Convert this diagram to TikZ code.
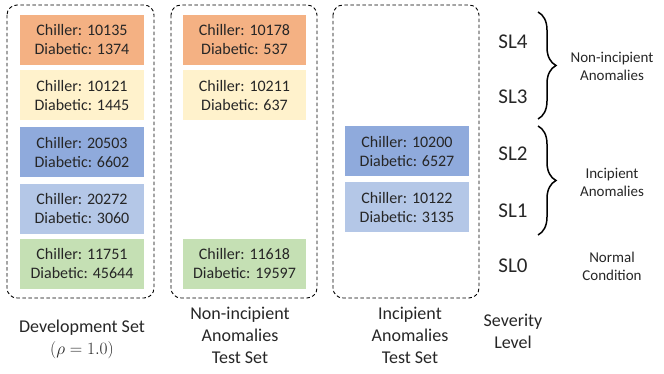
\documentclass[tikz,border=0pt]{standalone}
\usepackage{fontspec}
\setmainfont{Carlito}
\usetikzlibrary{decorations.pathreplacing}
\definecolor{cOr}{HTML}{F4B183}
\definecolor{cYe}{HTML}{FFF2CC}
\definecolor{cBl}{HTML}{8FAADC}
\definecolor{cLb}{HTML}{B4C7E7}
\definecolor{cGr}{HTML}{C5E0B4}
\tikzset{
  cell/.style={inner sep=0pt, minimum width=124pt, minimum height=50pt, align=center,
    font=\fontsize{16}{19}\selectfont, text=black!85},
  dbox/.style={draw, line width=0.9pt, dash pattern=on 3.5pt off 2.5pt, rounded corners=10pt},
  sllab/.style={font=\fontsize{21}{24}\selectfont, text=black!85},
  sidelab/.style={font=\fontsize{15}{18}\selectfont, align=center, text=black!85},
  botlab/.style={font=\fontsize{18}{22}\selectfont, align=center, text=black!85, anchor=north},
  brc/.style={decorate, decoration={brace, amplitude=18pt}, line width=1.5pt}
}
\begin{document}
\begin{tikzpicture}[x=1pt,y=-1pt]
\useasboundingbox (0,0) rectangle (664,374);
% dashed set boxes
\draw[dbox] (7,5) rectangle (154,298);
\draw[dbox] (171,5) rectangle (317,298);
\draw[dbox] (333,5) rectangle (479,298);
% column 1
\node[cell, fill=cOr] (a4) at (82,40) {Chiller: 10135\\Diabetic: 1374};
\node[cell, fill=cYe] (a3) at (82,95.5) {Chiller: 10121\\Diabetic: 1445};
\node[cell, fill=cBl] (a2) at (82,152.5) {Chiller: 20503\\Diabetic: 6602};
\node[cell, fill=cLb] (a1) at (82,209) {Chiller: 20272\\Diabetic: 3060};
\node[cell, fill=cGr] (a0) at (82,264) {Chiller: 11751\\Diabetic: 45644};
% column 2
\node[cell, fill=cOr, minimum width=123pt] (b4) at (244.5,40) {Chiller: 10178\\Diabetic: 537};
\node[cell, fill=cYe, minimum width=123pt] (b3) at (244.5,95.5) {Chiller: 10211\\Diabetic: 637};
\node[cell, fill=cGr, minimum width=123pt] (b0) at (244.5,264) {Chiller: 11618\\Diabetic: 19597};
% column 3
\node[cell, fill=cBl] (c2) at (407,151.5) {Chiller: 10200\\Diabetic: 6527};
\node[cell, fill=cLb] (c1) at (407,207.5) {Chiller: 10122\\Diabetic: 3135};
% severity levels
\node[sllab] (s4) at (513,42) {SL4};
\node[sllab] (s3) at (513,97) {SL3};
\node[sllab] (s2) at (513,154) {SL2};
\node[sllab] (s1) at (513,211) {SL1};
\node[sllab] (s0) at (513,266) {SL0};
% braces
\coordinate (b1t) at (538,12);
\coordinate (b1b) at (538,119);
\coordinate (b2t) at (538,126);
\coordinate (b2b) at (538,235);
\draw[brc] (b1t) -- (b1b);
\draw[brc] (b2t) -- (b2b);
% side labels
\node[sidelab] (n1) at (612,66) {Non-incipient\\Anomalies};
\node[sidelab] (n2) at (612,182) {Incipient\\Anomalies};
\node[sidelab] (n3) at (612,266) {Normal\\Condition};
% bottom labels
\node[botlab] (l1) at (82,316) {Development Set\\$(\rho = 1.0)$};
\node[botlab] (l2) at (240,304) {Non-incipient\\Anomalies\\Test Set};
\node[botlab] (l3) at (410,304) {Incipient\\Anomalies\\Test Set};
\node[botlab] (l4) at (513,311) {Severity\\Level};
\end{tikzpicture}
\end{document}
